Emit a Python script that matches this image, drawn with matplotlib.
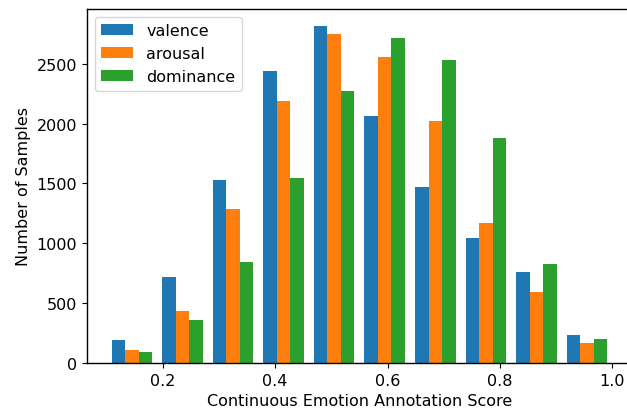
import numpy as np
import matplotlib
matplotlib.use("Agg")
import matplotlib.pyplot as plt

bin_edges = [0.1, 0.19, 0.28, 0.37, 0.46, 0.55, 0.64, 0.73, 0.82, 0.91, 1.0]
series_names = ["valence", "arousal", "dominance"]
valence = [192, 717, 1533, 2442, 2817, 2067, 1467, 1042, 758, 233]
arousal = [108, 433, 1283, 2192, 2750, 2558, 2025, 1167, 592, 167]
dominance = [92, 358, 842, 1542, 2275, 2717, 2533, 1883, 825, 200]

plt.rcParams["font.size"] = 11.5
plt.rcParams["axes.linewidth"] = 1.0

edges = np.array(bin_edges)
centers = (edges[:-1] + edges[1:]) / 2

fig = plt.figure(figsize=(6.27, 4.14), dpi=100)
ax = fig.add_axes([87 / 627, 50 / 414, 545 / 627, 354 / 414])
ax.hist([centers, centers, centers], bins=edges,
        weights=[valence, arousal, dominance], label=series_names)
ax.set_xlim(0.0653, 1.035)
ax.set_xticks([0.2, 0.4, 0.6, 0.8, 1.0])
ax.spines["right"].set_visible(False)
ax.set_xlabel("Continuous Emotion Annotation Score")
ax.set_ylabel("Number of Samples")
ax.legend(loc="upper left")
fig.savefig("out.png", dpi=100)
